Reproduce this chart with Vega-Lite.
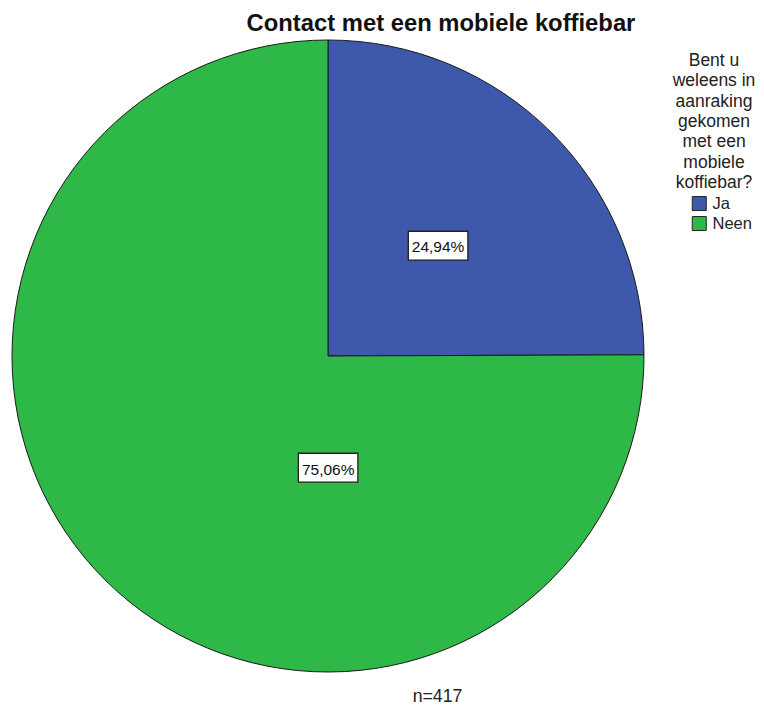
{
  "$schema": "https://vega.github.io/schema/vega-lite/v6.json",
  "autosize": "none",
  "width": 634,
  "height": 634,
  "padding": {"left": 11, "top": 39, "right": 119, "bottom": 34},
  "background": "white",
  "title": {
    "text": "Contact met een mobiele koffiebar",
    "font": "Liberation Sans",
    "fontSize": 23.8,
    "fontWeight": "bold",
    "color": "#111",
    "anchor": "middle",
    "dx": 113,
    "offset": 2
  },
  "data": {
    "values": [
      {"answer": "Ja", "pct": 24.94, "label": "24,94%"},
      {"answer": "Neen", "pct": 75.06, "label": "75,06%"}
    ]
  },
  "layer": [
    {
      "mark": {"type": "arc", "outerRadius": 316, "stroke": "#1a1a1a", "strokeWidth": 1},
      "encoding": {
        "theta": {"field": "pct", "type": "quantitative", "stack": true},
        "color": {
          "field": "answer",
          "type": "nominal",
          "scale": {"domain": ["Ja", "Neen"], "range": ["#3E58AC", "#2EB848"]},
          "legend": {
            "orient": "none",
            "legendX": 662,
            "legendY": 13,
            "title": ["Bent u", "weleens in", "aanraking", "gekomen", "met een", "mobiele", "koffiebar?"],
            "titleFont": "Liberation Sans",
            "titleFontSize": 17.5,
            "titleFontWeight": "normal",
            "titleLineHeight": 20.3,
            "titleAlign": "center",
            "titleAnchor": "middle",
            "titleColor": "#222",
            "titlePadding": 4,
            "labelFont": "Liberation Sans",
            "labelFontSize": 16.5,
            "labelColor": "#222",
            "labelOffset": 5,
            "symbolType": "square",
            "symbolSize": 196,
            "symbolStrokeColor": "#222",
            "symbolStrokeWidth": 1,
            "symbolOpacity": 1,
            "symbolOffset": 15,
            "rowPadding": 1
          }
        }
      }
    },
    {
      "mark": {
        "type": "text",
        "text": "▬",
        "font": "DejaVu Sans",
        "fontSize": 78,
        "fill": "white",
        "stroke": "#222",
        "strokeWidth": 1.3,
        "align": "center",
        "baseline": "middle",
        "dy": -2.5,
        "radius": {"expr": "datum.answer === 'Neen' ? 112 : 156"},
        "thetaOffset": {"expr": "datum.answer === 'Neen' ? -0.7854 : 0"}
      },
      "encoding": {
        "theta": {"field": "pct", "type": "quantitative", "stack": true},
        "detail": {"field": "answer"}
      }
    },
    {
      "mark": {
        "type": "text",
        "font": "Liberation Sans",
        "fontSize": 15.5,
        "color": "#111",
        "align": "center",
        "baseline": "middle",
        "dy": 2,
        "radius": {"expr": "datum.answer === 'Neen' ? 112 : 156"},
        "thetaOffset": {"expr": "datum.answer === 'Neen' ? -0.7854 : 0"}
      },
      "encoding": {
        "theta": {"field": "pct", "type": "quantitative", "stack": true},
        "detail": {"field": "answer"},
        "text": {"field": "label"}
      }
    },
    {
      "mark": {"type": "rule", "opacity": 0},
      "encoding": {
        "x": {
          "datum": 0,
          "type": "quantitative",
          "scale": {"domain": [-1, 1]},
          "axis": {
            "title": "n=417",
            "titleFont": "Liberation Sans",
            "titleFontSize": 17.7,
            "titleFontWeight": "normal",
            "titleColor": "#222",
            "titleX": 426,
            "titlePadding": 14,
            "domain": false,
            "ticks": false,
            "labels": false,
            "grid": false
          }
        }
      }
    }
  ],
  "config": {"view": {"stroke": null}}
}
